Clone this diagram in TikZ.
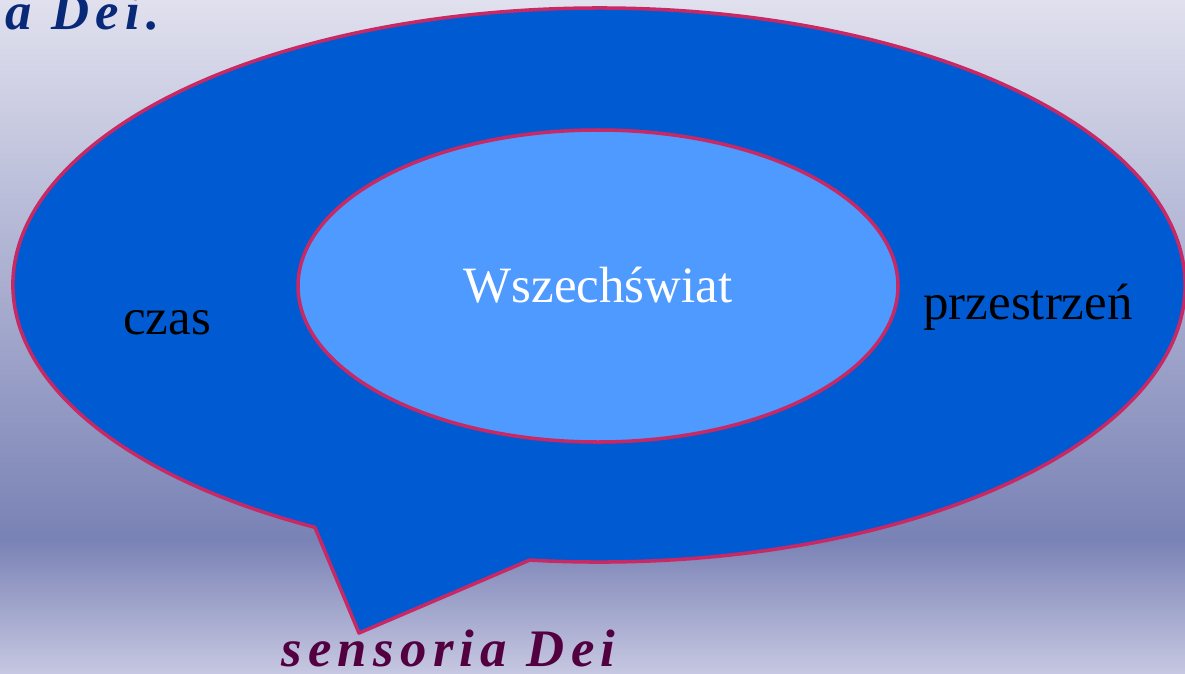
\documentclass[tikz,border=0pt]{standalone}
\usepackage{fontspec}
\setmainfont{Liberation Serif}
\newfontfamily\spacedserif[LetterSpace=12]{Liberation Serif}
\usepackage{tikz}
\definecolor{sky top}{RGB}{224, 224, 238}
\definecolor{sky low}{RGB}{121, 130, 181}
\definecolor{sky bottom}{RGB}{198, 199, 225}
\definecolor{deep blue}{RGB}{0, 91, 211}
\definecolor{light blue}{RGB}{78, 154, 255}
\definecolor{rim crimson}{RGB}{200, 40, 100}
\definecolor{title navy}{RGB}{8, 40, 120}
\definecolor{title plum}{RGB}{82, 0, 64}

\begin{document}
\begin{tikzpicture}[x = 0.02cm, y = -0.02cm,
		rim/.style = {draw = rim crimson, line width = 2pt, line join = round},
		word/.style = {font = \fontsize{29}{34}\selectfont, inner sep = 0pt},
		latin/.style = {font = \spacedserif\bfseries\itshape\fontsize{30}{36}\selectfont, inner sep = 0pt}]
		\useasboundingbox (0, 0) rectangle (1185, 673);
		\clip (0, 0) rectangle (1185, 673);
		% background
		\shade[top color = sky top, bottom color = sky low] (0, 0) rectangle (1185, 540);
		\shade[top color = sky low, bottom color = sky bottom] (0, 539) rectangle (1185, 673);
		% speech bubble
		\filldraw[rim, fill = deep blue]
			(359, 633) -- (314.9, 527.3)
			arc[start angle = 119, end angle = 456.8, x radius = 586, y radius = 277]
			-- cycle;
		% inner ellipse
		\filldraw[rim, fill = light blue] (598, 286) ellipse [x radius = 300, y radius = 156];
		% labels
		\node[word, anchor = base] (kosmos) at (598, 302) {\color{white}Wszechświat};
		\node[word, anchor = base] (czas) at (167, 334) {czas};
		\node[word, anchor = base] (przestrzen) at (1028, 319) {przestrzeń};
		\node[latin, anchor = base west, text = title plum] (sensoria) at (281, 666) {sensoria Dei};
		\node[latin, anchor = base east, text = title navy] (tytul) at (160, 29) {a Dei.};
	\end{tikzpicture}
\end{document}
